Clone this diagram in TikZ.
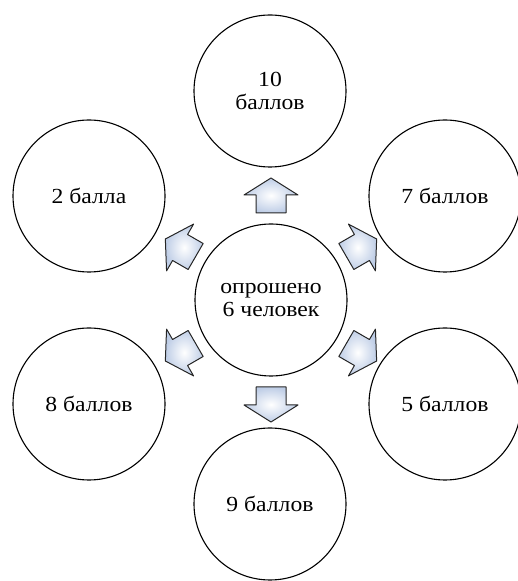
\documentclass[tikz,border=0pt]{standalone}
\usepackage{fontspec}
\setmainfont{Liberation Serif}
\newfontfamily\ballfont[FakeStretch=1.1]{Liberation Serif}
\usepackage{tikz}
\usepackage{xcolor}
\usetikzlibrary{positioning}

\definecolor{arrowblue}{RGB}{190,205,230}

\begin{document}
\begin{tikzpicture}[x=1pt, y=1pt,
    ball/.style={circle, draw, line width=1.1pt, fill=white, minimum size=152pt,
      inner sep=0pt, align=center, font=\ballfont\fontsize{21.5}{23}\selectfont},
    blockarrow/.style={draw=black!85, line width=1pt, line join=round,
      inner color=white, outer color=arrowblue}]
  \useasboundingbox (0,0) rectangle (518,581);

  \node[ball] (c) at (271,281) {опрошено\\6 человек};
  \node[ball] (n10) at (270,490) {10\\баллов};
  \node[ball] (n2) at (89,385) {2 балла};
  \node[ball] (n7) at (445,385) {7 баллов};
  \node[ball] (n8) at (89,177) {8 баллов};
  \node[ball] (n5) at (445,177) {5 баллов};
  \node[ball] (n9) at (270,77) {9 баллов};

  \foreach \a in {30,90,...,330} {
    \begin{scope}[shift={(c.center)}, rotate=\a]
      \draw[blockarrow] (87,-15) -- (105,-15) -- (105,-27) -- (122,0)
        -- (105,27) -- (105,15) -- (87,15) -- cycle;
    \end{scope}
  }
\end{tikzpicture}
\end{document}
